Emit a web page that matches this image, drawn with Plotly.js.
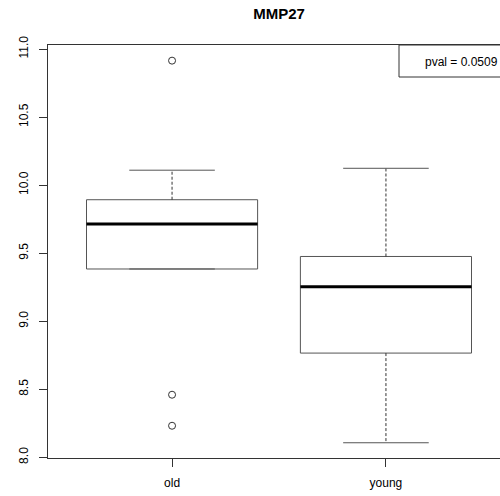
<!DOCTYPE html>
<html>
<head>
<meta charset="utf-8">
<script src="https://cdn.plot.ly/plotly-3.0.1.min.js"></script>
<style>
html,body{margin:0;padding:0;overflow:hidden;background:#fff;width:500px;height:496px;}
#chart{width:512px;height:496px;}
</style>
</head>
<body>
<div id="chart"></div>
<script>
// ---- data ----
const groups = ["old", "young"];
const groupPos = [1, 2];
const q1 = [9.384, 8.766];
const median = [9.715, 9.254];
const q3 = [9.893, 9.476];
const lowerWhisker = [9.384, 8.107];
const upperWhisker = [10.11, 10.124];
const outlierGroup = [1, 1, 1];
const outlierValues = [10.915, 8.46, 8.232];
const yTicks = [8.0, 8.5, 9.0, 9.5, 10.0, 10.5, 11.0];
const yTickText = ["8.0", "8.5", "9.0", "9.5", "10.0", "10.5", "11.0"];
const pvalText = "pval = 0.0509";
const titleText = "MMP27";

const boxHalf = 0.4, capHalf = 0.2;
const FONT = "Liberation Sans, Arial, Helvetica, sans-serif";

// whiskers (dashed)
const wx = [], wy = [];
const cx = [], cy = [];
const mx = [], my = [];
for (let i = 0; i < groups.length; i++) {
  const p = groupPos[i];
  wx.push(p, p, null, p, p, null);
  wy.push(q3[i], upperWhisker[i], null, q1[i], lowerWhisker[i], null);
  cx.push(p - capHalf, p + capHalf, null, p - capHalf, p + capHalf, null);
  cy.push(upperWhisker[i], upperWhisker[i], null, lowerWhisker[i], lowerWhisker[i], null);
  mx.push(p - boxHalf, p + boxHalf, null);
  my.push(median[i], median[i], null);
}

const traces = [
  {
    type: "scatter", mode: "lines", x: wx, y: wy,
    line: {color: "#333", width: 1, dash: "3px,2px"},
    hoverinfo: "skip", showlegend: false
  },
  {
    type: "scatter", mode: "lines", x: cx, y: cy,
    line: {color: "#555", width: 1},
    hoverinfo: "skip", showlegend: false
  },
  {
    type: "box", x: groupPos, q1: q1, median: median, q3: q3,
    lowerfence: q1, upperfence: q3,
    width: 2 * boxHalf, whiskerwidth: 0,
    boxpoints: false, fillcolor: "rgba(255,255,255,0)",
    line: {color: "#555", width: 1},
    showlegend: false, hoverinfo: "skip"
  },
  {
    type: "scatter", mode: "lines", x: mx, y: my,
    line: {color: "#000", width: 3},
    hoverinfo: "skip", showlegend: false
  },
  {
    type: "scatter", mode: "markers", x: outlierGroup, y: outlierValues,
    marker: {symbol: "circle-open", size: 7, color: "#333", line: {width: 1}},
    hoverinfo: "skip", showlegend: false
  }
];

const layout = {
  width: 512, height: 496,
  margin: {l: 48, r: 2, t: 45, b: 38},
  paper_bgcolor: "#fff", plot_bgcolor: "#fff",
  font: {family: FONT, size: 12, color: "#000"},
  title: {
    text: "<b>" + titleText + "</b>",
    font: {family: FONT, size: 15, color: "#000"},
    x: 0.5, xref: "paper", xanchor: "center",
    y: 1 - 14 / 496, yref: "container", yanchor: "middle"
  },
  xaxis: {
    range: [0.42, 2.58],
    tickvals: groupPos, ticktext: groups,
    ticks: "outside", ticklen: 8, tickcolor: "#333", tickwidth: 1,
    showgrid: false, zeroline: false,
    showline: true, mirror: true, linecolor: "#333", linewidth: 1,
    ticklabelstandoff: 6,
    tickfont: {family: FONT, size: 12, color: "#000"}
  },
  yaxis: {
    range: [7.995, 11.03],
    tickvals: yTicks, ticktext: yTickText,
    tickangle: -90,
    ticks: "outside", ticklen: 8, tickcolor: "#333", tickwidth: 1,
    showgrid: false, zeroline: false,
    showline: true, mirror: true, linecolor: "#333", linewidth: 1,
    ticklabelstandoff: 6,
    tickfont: {family: FONT, size: 12, color: "#000"}
  },
  shapes: [
    {type: "rect", xref: "paper", yref: "paper",
     x0: (399 - 48) / 462, x1: 1.0, y0: (458 - 77) / 413, y1: 1.0,
     line: {color: "#333", width: 1}, fillcolor: "rgba(0,0,0,0)"}
  ],
  annotations: [
    {text: pvalText, xref: "paper", yref: "paper",
     x: (423 - 48) / 462, y: (458 - 62) / 413,
     xanchor: "left", yanchor: "middle", showarrow: false,
     font: {family: FONT, size: 12, color: "#000"}}
  ]
};

Plotly.newPlot("chart", traces, layout, {displayModeBar: false, staticPlot: true});
</script>
</body>
</html>
